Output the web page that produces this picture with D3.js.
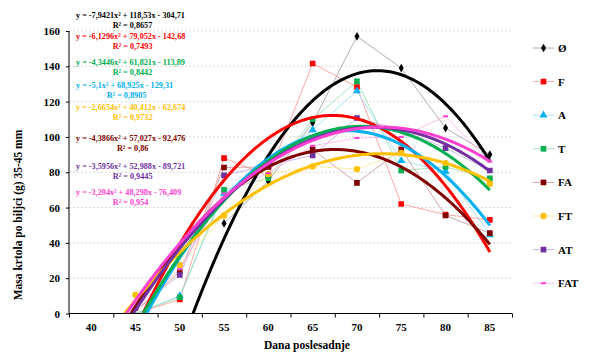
<!DOCTYPE html>
<html><head><meta charset="utf-8">
<script src="https://cdn.jsdelivr.net/npm/d3@7"></script>
<style>
html,body{margin:0;padding:0;background:#fff;}
text{font-family:"Liberation Serif","Times New Roman",serif;font-weight:bold;}
</style></head>
<body>
<svg id="c" width="592" height="360"></svg>
<script>
// ---- data ----
const categories = ["40","45","50","55","60","65","70","75","80","85"];
const seriesNames = ["Ø","F","A","T","FA","FT","AT","FAT"];
const valCtrl = [null,null,null,51,75,108,157,139,105,90];
const valF    = [null,0,8,88,78,141.6,128.3,62,56,53];
const valA    = [null,0,10,68,86,104,126,86.5,80.5,44.5];
const valT    = [null,0,9.2,70,76.7,110,131.5,81,83,76.5];
const valFA   = [null,1,23.7,82.7,83,92.8,74,93,55.5,45.5];
const valFT   = [null,10.5,27.5,55.5,79,83.3,81.8,91,85.2,73.5];
const valAT   = [null,2,21.8,78.2,84,89.5,110.7,104,93.7,81];
const valFAT  = [null,3,25,68,79.5,95,99.4,100,111.7,86];
// trendline coefficients y = a x^2 + b x + c (x = category index 1..10)
const trendA = [-7.9421,-6.1296,-5.1,-4.3446,-4.3866,-2.6654,-3.5956,-3.204];
const trendB = [118.53,79.052,68.925,61.821,57.027,40.412,52.988,48.298];
const trendC = [-304.71,-142.68,-129.31,-113.89,-92.476,-62.674,-89.721,-76.409];
const trendR2 = ["0,8657","0,7493","0,8905","0,8442","0,86","0,9732","0,9445","0,954"];
const yTicks = [0,20,40,60,80,100,120,140,160];
const xTitle = "Dana poslesadnje";
const yTitle = "Masa krtola po biljci (g) 35-45 mm";

// ---- styles ----
const values = [valCtrl,valF,valA,valT,valFA,valFT,valAT,valFAT];
const colors = ["#000000","#ff0000","#00b0f0","#00b050","#800000","#ffc000","#7030a0","#ff40d0"];
const lineColors = ["#999999","#ff9090","#90dcf8","#90dcb0","#c89090","#ffe490","#c0a4d8","#ffb0ec"];
const markers = ["diamond","square","triangle","square","square","circle","square","dash"];

const svg = d3.select("#c");
svg.append("rect").attr("width",592).attr("height",360).attr("fill","#fff");

const L=69, R=512, T=31, B=313.5;
const xBand = d3.scaleBand().domain(categories).range([L,R]).paddingInner(0).paddingOuter(0);
const xLin = d3.scaleLinear().domain([0.5,categories.length+0.5]).range([L,R]);
const y = d3.scaleLinear().domain([0,160]).range([B,T]);

svg.append("clipPath").attr("id","clip").append("rect")
  .attr("x",L).attr("y",T-10).attr("width",R-L+10).attr("height",B-T+10);
svg.append("clipPath").attr("id","clipM").append("rect")
  .attr("x",L).attr("y",T-10).attr("width",R-L+10).attr("height",B-T+10-3);

// gridlines
svg.append("g").selectAll("line").data(yTicks.filter(d=>d>0)).join("line")
  .attr("x1",L).attr("x2",R).attr("y1",d=>y(d)).attr("y2",d=>y(d))
  .attr("stroke","#d0d0d0").attr("stroke-width",0.8).attr("stroke-dasharray","2,2");

const plot = svg.append("g").attr("clip-path","url(#clip)");
const mplot = svg.append("g").attr("clip-path","url(#clipM)");
const tplot = svg.append("g").attr("clip-path","url(#clip)");

// thin data lines
const lineGen = d3.line().defined(d=>d.v!=null).x(d=>xBand(d.c)+xBand.bandwidth()/2).y(d=>y(d.v));
values.forEach((vals,i)=>{
  const pts = categories.map((c,j)=>({c:c,v:vals[j]}));
  plot.append("path").datum(pts).attr("d",lineGen).attr("fill","none")
    .attr("stroke",lineColors[i]).attr("stroke-width",0.8);
});

function drawMarker(g,type,color,cx,cy){
  if(type==="dash"){
    g.append("rect").attr("x",cx-2.5).attr("y",cy-1).attr("width",5).attr("height",2).attr("fill",color);
    return;
  }
  const sym = {diamond:d3.symbolDiamond,square:d3.symbolSquare,triangle:d3.symbolTriangle,circle:d3.symbolCircle}[type];
  const size = {diamond:22,square:32,triangle:28,circle:32}[type];
  g.append("path").attr("d",d3.symbol().type(sym).size(size)())
    .attr("transform",`translate(${cx},${cy})`).attr("fill",color);
}
// markers
values.forEach((vals,i)=>{
  categories.forEach((c,j)=>{
    if(vals[j]==null) return;
    drawMarker(mplot,markers[i],colors[i],xBand(c)+xBand.bandwidth()/2,y(vals[j]));
  });
});

// trendlines
values.forEach((vals,i)=>{
  const xs = d3.range(1, categories.length+0.001, 0.05);
  const pts = xs.map(x=>[xLin(x), y(trendA[i]*x*x+trendB[i]*x+trendC[i])]);
  tplot.append("path").attr("d",d3.line()(pts)).attr("fill","none")
    .attr("stroke",colors[i]).attr("stroke-width",3).attr("stroke-linejoin","round");
});

// axes
const yAxis = svg.append("g").attr("transform",`translate(${L},0)`)
  .call(d3.axisLeft(y).tickValues(yTicks).tickSize(3).tickPadding(6));
yAxis.select(".domain").attr("stroke","#000").attr("d",`M0,${T}V${B}`);
yAxis.selectAll("text").attr("font-size",11).attr("fill","#000");

const xTickG = svg.append("g").attr("transform",`translate(0,${B})`)
  .call(d3.axisBottom(xLin).tickValues(d3.range(0.5,categories.length+1,1)).tickSize(4).tickFormat(""));
xTickG.select(".domain").attr("stroke","#000").attr("d",`M${L},0H${R}`);
const xLab = svg.append("g").attr("transform",`translate(0,${B})`)
  .call(d3.axisBottom(xBand).tickSize(0).tickPadding(10));
xLab.select(".domain").remove();
xLab.selectAll("text").attr("font-size",11).attr("fill","#000");

svg.append("text").attr("x",307).attr("y",349).attr("text-anchor","middle")
  .attr("font-size",11.5).text(xTitle);
svg.append("text").attr("transform","translate(22,215) rotate(-90)").attr("text-anchor","middle")
  .attr("font-size",11.5).text(yTitle);

// equations
const fmt = v => String(Math.abs(v)).replace(".",",");
const eqOrder = [0,1,3,2,5,4,6,7];
const eqY = [18,39,65,88,110,141,169,195];
eqOrder.forEach((si,k)=>{
  const eq = `y = ${trendA[si]<0?"-":""}${fmt(trendA[si])}x² + ${fmt(trendB[si])}x ${trendC[si]<0?"-":"+"} ${fmt(trendC[si])}`;
  const t = svg.append("text").attr("x",76).attr("y",eqY[k]).attr("font-size",8.2)
    .attr("fill",colors[si]).text(eq);
  const w = t.node().getComputedTextLength();
  svg.append("text").attr("x",76+w/2+2).attr("y",eqY[k]+9.5).attr("text-anchor","middle")
    .attr("font-size",8.2).attr("fill",colors[si]).text(`R² = ${trendR2[si]}`);
});

// legend
seriesNames.forEach((n,i)=>{
  const ly = 48 + i*33.6;
  const g = svg.append("g");
  g.append("line").attr("x1",533).attr("x2",554).attr("y1",ly).attr("y2",ly)
    .attr("stroke",lineColors[i]).attr("stroke-width",0.8);
  drawMarker(g,markers[i],colors[i],543.5,ly);
  g.append("text").attr("x",558).attr("y",ly+4).attr("font-size",11).text(n);
});
</script>
</body></html>
